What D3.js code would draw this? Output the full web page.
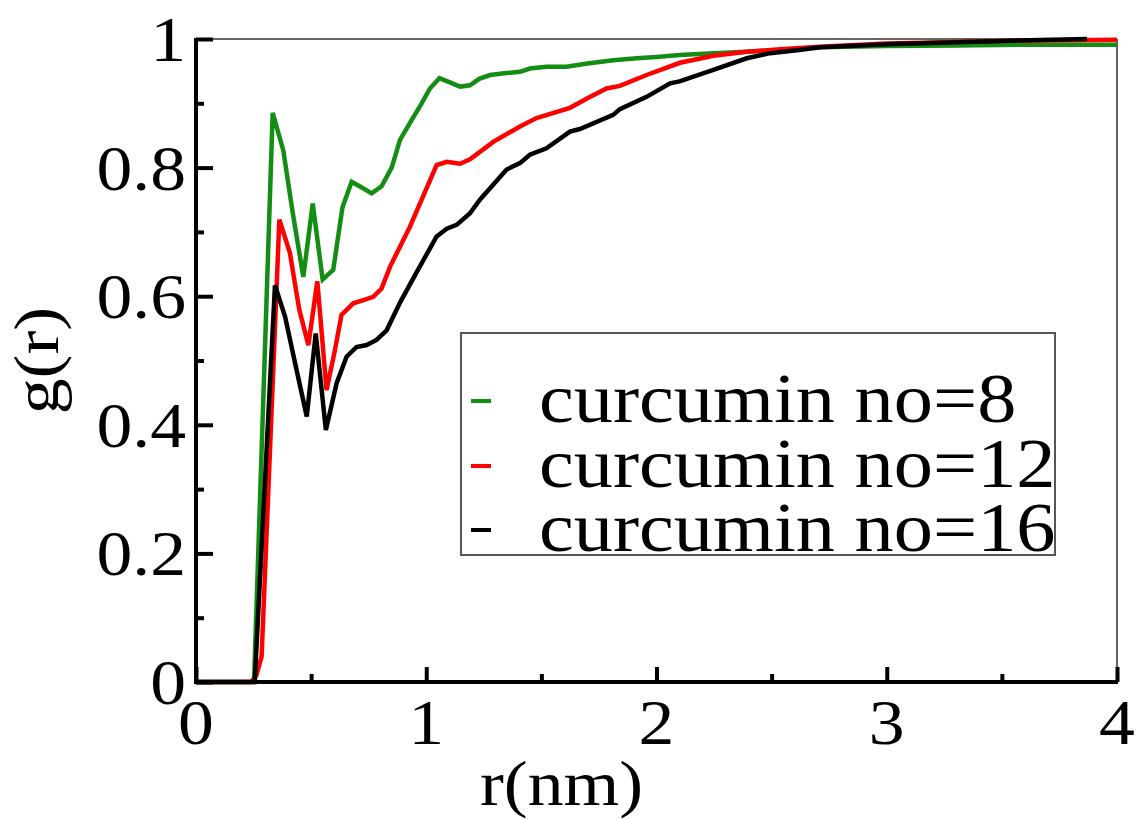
<!DOCTYPE html>
<html>
<head>
<meta charset="utf-8">
<script src="https://cdn.jsdelivr.net/npm/d3@7"></script>
<style>
  html, body { margin: 0; padding: 0; background: #fff; }
  svg { display: block; }
</style>
</head>
<body>
<svg id="chart" width="1138" height="819"></svg>
<script>
// ---- data ----
const seriesNames = ["curcumin no=8", "curcumin no=12", "curcumin no=16"];
const seriesColors = ["#138d13", "#ff0000", "#000000"];

const r8 = [0, 0.24, 0.252, 0.333, 0.379, 0.42, 0.466, 0.507, 0.550, 0.596, 0.636, 0.676, 0.72, 0.763, 0.806, 0.85, 0.886, 0.93, 0.98, 1.016, 1.057, 1.10, 1.147, 1.19, 1.23, 1.277, 1.349, 1.407, 1.45, 1.522, 1.609, 1.70, 1.812, 1.914, 2.0, 2.1, 2.25, 2.39, 2.536, 2.71, 3.0, 3.3, 3.6, 4.0];
const g8 = [0, 0, 0, 0.885, 0.827, 0.73, 0.630, 0.744, 0.626, 0.641, 0.738, 0.778, 0.769, 0.760, 0.771, 0.80, 0.843, 0.87, 0.90, 0.923, 0.939, 0.933, 0.926, 0.928, 0.938, 0.944, 0.947, 0.949, 0.954, 0.957, 0.957, 0.962, 0.967, 0.970, 0.972, 0.975, 0.978, 0.980, 0.983, 0.987, 0.989, 0.990, 0.991, 0.991];

const r12 = [0, 0.24, 0.262, 0.285, 0.362, 0.408, 0.448, 0.488, 0.527, 0.567, 0.60, 0.632, 0.683, 0.727, 0.770, 0.806, 0.843, 0.929, 1.045, 1.089, 1.147, 1.19, 1.291, 1.407, 1.479, 1.624, 1.70, 1.783, 1.841, 1.957, 2.102, 2.247, 2.392, 2.536, 2.71, 3.0, 3.5, 4.0];
const g12 = [0, 0, 0.01, 0.04, 0.719, 0.667, 0.58, 0.524, 0.623, 0.454, 0.51, 0.571, 0.589, 0.594, 0.599, 0.612, 0.646, 0.708, 0.804, 0.809, 0.806, 0.813, 0.840, 0.864, 0.877, 0.893, 0.908, 0.923, 0.927, 0.944, 0.963, 0.974, 0.980, 0.984, 0.988, 0.993, 0.997, 0.999];

const r16 = [0, 0.24, 0.255, 0.343, 0.387, 0.434, 0.481, 0.520, 0.564, 0.611, 0.654, 0.697, 0.741, 0.784, 0.828, 0.886, 0.958, 1.045, 1.089, 1.132, 1.19, 1.233, 1.349, 1.407, 1.45, 1.522, 1.624, 1.667, 1.812, 1.841, 1.957, 2.059, 2.10, 2.247, 2.392, 2.493, 2.62, 2.71, 3.0, 3.5, 3.87];
const g16 = [0, 0, 0, 0.617, 0.568, 0.49, 0.413, 0.542, 0.392, 0.465, 0.506, 0.521, 0.524, 0.532, 0.547, 0.590, 0.637, 0.693, 0.705, 0.711, 0.729, 0.750, 0.797, 0.807, 0.820, 0.830, 0.856, 0.860, 0.882, 0.891, 0.910, 0.931, 0.934, 0.952, 0.970, 0.978, 0.983, 0.987, 0.992, 0.997, 1.0];

const xTicksMajor = [0, 1, 2, 3, 4];
const xTickLabels = ["0", "1", "2", "3", "4"];
const xTicksMinor = [0.5, 1.5, 2.5, 3.5];
const yTicksMajor = [0, 0.2, 0.4, 0.6, 0.8, 1];
const yTickLabels = ["0", "0.2", "0.4", "0.6", "0.8", "1"];
const yTicksMinor = [0.1, 0.3, 0.5, 0.7, 0.9];
const xLabel = "r(nm)";
const yLabel = "g(r)";

(function () {
const FONT = "'Liberation Serif', 'Times New Roman', Times, serif";
const svg = d3.select("#chart");
const pL = 196, pR = 1117, pT = 39, pB = 682;
const x = d3.scaleLinear().domain([0, 4]).range([pL, pR]);
const y = d3.scaleLinear().domain([0, 1]).range([pB, pT]);
const fontSize = 64;
const stretch = 1.12;

// frame (top/right thin)
svg.append("line").attr("x1", pL).attr("x2", pR).attr("y1", pT).attr("y2", pT)
  .attr("stroke", "#666").attr("stroke-width", 2);
svg.append("line").attr("x1", pR).attr("x2", pR).attr("y1", pT).attr("y2", pB)
  .attr("stroke", "#666").attr("stroke-width", 2);

// data lines
const series = [
  { r: r8, g: g8 },
  { r: r12, g: g12 },
  { r: r16, g: g16 }
];
const line = d3.line().x(d => x(d[0])).y(d => y(d[1]));
[0, 1, 2].forEach(i => {
  const pts = series[i].r.map((rv, k) => [rv, series[i].g[k]]);
  svg.append("path").datum(pts)
    .attr("d", line)
    .attr("fill", "none")
    .attr("stroke", seriesColors[i])
    .attr("stroke-width", 4.5)
    .attr("stroke-linejoin", "miter")
    .attr("stroke-miterlimit", 3);
});

// axes (left & bottom thick)
const xAxis = d3.axisBottom(x).tickValues(xTicksMajor).tickSize(-15).tickFormat("");
const xAxisMinor = d3.axisBottom(x).tickValues(xTicksMinor).tickSize(-8).tickFormat("");
const yAxis = d3.axisLeft(y).tickValues(yTicksMajor).tickSize(-17).tickFormat("");
const yAxisMinor = d3.axisLeft(y).tickValues(yTicksMinor).tickSize(-8).tickFormat("");

function styleAxis(g) {
  g.select(".domain").remove();
  g.selectAll(".tick line").attr("stroke", "#000").attr("stroke-width", 4);
}
svg.append("g").attr("transform", `translate(0,${pB})`).call(xAxis).call(styleAxis);
svg.append("g").attr("transform", `translate(0,${pB})`).call(xAxisMinor).call(styleAxis);
svg.append("g").attr("transform", `translate(${pL},0)`).call(yAxis).call(styleAxis);
svg.append("g").attr("transform", `translate(${pL},0)`).call(yAxisMinor).call(styleAxis);

svg.append("line").attr("x1", pL - 2).attr("x2", pR + 1).attr("y1", pB).attr("y2", pB)
  .attr("stroke", "#000").attr("stroke-width", 4);
svg.append("line").attr("x1", pL).attr("x2", pL).attr("y1", pT - 1).attr("y2", pB + 2)
  .attr("stroke", "#000").attr("stroke-width", 4);

function addText(tx, ty, str, anchor, size, rot) {
  return svg.append("text")
    .attr("transform", `translate(${tx},${ty})${rot ? " rotate(" + rot + ")" : ""} scale(${stretch},1)`)
    .attr("text-anchor", anchor)
    .attr("font-family", FONT)
    .attr("font-size", size)
    .attr("fill", "#000")
    .text(str);
}

// tick labels
xTicksMajor.forEach((d, i) => addText(x(d), pB + 62, xTickLabels[i], "middle", fontSize));
yTicksMajor.forEach((d, i) => addText(pL - 10, y(d) + 22, yTickLabels[i], "end", fontSize));

// axis titles
addText((pL + pR) / 2 - 95, 805, xLabel, "middle", fontSize);
addText(58, (pT + pB) / 2, yLabel, "middle", fontSize, -90);

// legend
const lx = 461, ly = 333, lw = 594, lh = 222;
svg.append("rect").attr("x", lx).attr("y", ly).attr("width", lw).attr("height", lh)
  .attr("fill", "#fff").attr("stroke", "#555").attr("stroke-width", 2);
const rowBase = [422, 487, 551];
seriesNames.forEach((name, i) => {
  svg.append("line")
    .attr("x1", lx + 10).attr("x2", lx + 30)
    .attr("y1", rowBase[i] - 21).attr("y2", rowBase[i] - 21)
    .attr("stroke", seriesColors[i]).attr("stroke-width", 4);
  addText(lx + 78, rowBase[i], name, "start", 70);
});
})();
</script>
</body>
</html>
